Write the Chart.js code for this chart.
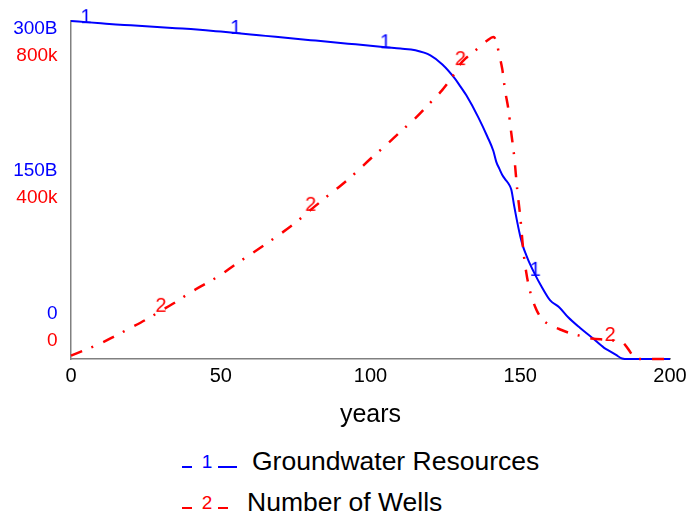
<!DOCTYPE html>
<html>
<head>
<meta charset="utf-8">
<script src="https://cdn.jsdelivr.net/npm/chart.js@4.4.1/dist/chart.umd.min.js"></script>
<style>
  html, body { margin: 0; padding: 0; background: #fff; }
  #wrap { position: relative; width: 689px; height: 515px; overflow: hidden;
          font-family: "Liberation Sans", Arial, sans-serif; }
  #chart { position: absolute; left: 0; top: 0; }
  .legend-row { position: absolute; left: 0; width: 689px; height: 41px; }
  .legend-row svg { position: absolute; left: 182px; top: 0; }
  .legend-row span { position: absolute; top: 0; font-size: 26.5px; line-height: 41px;
                     color: #000; white-space: nowrap; }
</style>
</head>
<body>
<div id="wrap">
  <canvas id="chart" width="689" height="440"></canvas>
  <div id="legend"></div>
</div>
<script>
/* ========== DATA ========== */

const years = [0, 5, 10, 15, 20, 25, 30, 35, 40, 45, 50, 55, 60, 65, 70, 75, 80, 85, 90, 95,
  100, 105, 110, 115, 120, 124, 128, 130, 132, 136, 139, 141, 142, 143, 144, 145, 146, 147,
  148, 149, 150, 151, 152, 153, 155, 157, 160, 163, 166, 170, 174, 178, 180, 182, 184, 186,
  188, 190, 195, 200];

// Groundwater Resources, billions
const groundwater = [300, 299, 298, 297, 296.2, 295.3, 294.5, 293.6, 292.8, 291.8, 290.6,
  289.4, 288, 286.8, 285.5, 284.2, 283, 281.8, 280.5, 279.3, 278, 276.7, 275.5, 274, 269.5,
  261.4, 249.5, 242, 234, 214.5, 197.5, 184.8, 175, 169, 163.4, 159.4, 155.9, 150.5, 135.5,
  121.5, 109, 99.3, 92.3, 85.8, 74.7, 64.8, 52, 46, 37, 27.5, 18.9, 9.9, 6.8, 3.6, 0.5, 0,
  0, 0, 0, 0];

// Number of Wells, thousands
const wells = [8, 22.5, 37.5, 55.5, 74, 93, 114, 135, 158, 178.5, 199, 224.5, 248, 272,
  296.5, 323, 353, 382, 410, 440.5, 474, 505, 538, 570, 607, 637, 675, 698, 713, 736, 754,
  762, 752, 719, 686, 633, 593, 535, 478, 400, 337, 258, 205, 168, 123, 97, 80, 71, 62.5,
  55, 48.5, 46, 45, 43, 40.5, 24, 4, 0, 0, 0];

const seriesNames = ["Groundwater Resources", "Number of Wells"];
const seriesMarks = ["1", "2"];

// years where the curve number is written on the line
const markYearsWater = [5, 55, 105, 155];
const markYearsWells = [30, 80, 130, 180];

const xTicks = [0, 50, 100, 150, 200];
const waterTicks = [0, 150, 300];
const waterTickLabels = ["0", "150B", "300B"];
const wellTicks = [0, 400, 800];
const wellTickLabels = ["0", "400k", "800k"];

/* ========== STYLE ========== */

const BLUE = "#0000ff";
const RED = "#ff0000";
const AXIS_GREY = "#808080";
const FONT = '"Liberation Sans", Arial, sans-serif';

Chart.defaults.font.family = FONT;

// the curve numbers drawn as point images, digit bottom sits on the line
function digitMark(text, color) {
    const c = document.createElement("canvas");
    c.width = 18;
    c.height = 44;
    const g = c.getContext("2d");
    g.font = "20px " + FONT;
    g.fillStyle = color;
    g.textAlign = "center";
    g.textBaseline = "alphabetic";
    g.fillText(text, 9, 23);
    return c;
}

const markWater = digitMark(seriesMarks[0], BLUE);
const markWells = digitMark(seriesMarks[1], RED);

function toPoints(values) {
    return years.map((t, i) => ({ x: t, y: values[i] }));
}

function noPadding(scale) {
    scale.paddingTop = 0;
    scale.paddingBottom = 0;
    scale.paddingLeft = 0;
    scale.paddingRight = 0;
}

// Vensim spreads the stacked tick labels over a shorter span than the plot,
// so the labels sit on their own (dataless) axes pinned just left of x = 0
function labelAxis(min, max, values, labels, color) {
    return {
        type: "linear",
        position: { x: -4.5 },
        min: min,
        max: max,
        afterBuildTicks: s => { s.ticks = values.map(v => ({ value: v })); },
        ticks: {
            color: color,
            font: { size: 19 },
            callback: (v, i) => labels[i]
        },
        grid: { display: false, drawTicks: false },
        border: { display: false },
        afterFit: noPadding
    };
}

/* ========== CHART ========== */

const chart = new Chart(document.getElementById("chart"), {
    type: "line",
    data: {
        datasets: [
            {
                label: seriesNames[0],
                data: toPoints(groundwater),
                yAxisID: "y",
                borderColor: BLUE,
                borderWidth: 2,
                cubicInterpolationMode: "monotone",
                order: 1,
                clip: { left: 4, top: 21, right: 4, bottom: 4 },
                pointRadius: c => markYearsWater.includes(years[c.dataIndex]) ? 6 : 0,
                pointStyle: c => markYearsWater.includes(years[c.dataIndex]) ? markWater : "circle"
            },
            {
                label: seriesNames[1],
                data: toPoints(wells),
                yAxisID: "y1",
                borderColor: RED,
                borderWidth: 2.5,
                borderDash: [12, 10, 2, 11],
                cubicInterpolationMode: "monotone",
                order: 0,
                clip: { left: 4, top: 21, right: 4, bottom: 4 },
                pointRadius: c => markYearsWells.includes(years[c.dataIndex]) ? 6 : 0,
                pointStyle: c => markYearsWells.includes(years[c.dataIndex]) ? markWells : "circle"
            }
        ]
    },
    options: {
        responsive: false,
        animation: false,
        events: [],
        layout: { padding: { top: 21, right: 19, bottom: 0, left: 0 } },
        plugins: {
            legend: { display: false },
            tooltip: { enabled: false }
        },
        scales: {
            x: {
                type: "linear",
                min: 0,
                max: 200,
                afterBuildTicks: s => { s.ticks = xTicks.map(v => ({ value: v })); },
                ticks: { color: "#000", font: { size: 20 }, padding: 5 },
                grid: { display: false, drawTicks: false },
                border: { color: AXIS_GREY, width: 1.5 },
                title: {
                    display: true,
                    text: "years",
                    color: "#000",
                    font: { size: 25 },
                    padding: { top: 0, bottom: 10 }
                },
                afterFit: s => { s.height = 81; noPadding(s); }
            },
            y: {
                type: "linear",
                position: "left",
                min: 0,
                max: 300,
                ticks: { display: false },
                grid: { display: false, drawTicks: false },
                border: { color: AXIS_GREY, width: 1.5 },
                afterFit: s => { s.width = 71; noPadding(s); }
            },
            y1: {
                type: "linear",
                display: false,
                min: 0,
                max: 800
            },
            yWaterLabels: labelAxis(-47.3, 307.9, waterTicks, waterTickLabels, BLUE),
            yWellLabels: labelAxis(-51.9, 896.8, wellTicks, wellTickLabels, RED)
        }
    }
});

/* ========== LEGEND (Vensim style, one row per series) ========== */

const legendEl = document.getElementById("legend");
const legendRows = [
    { top: 441, textLeft: 252, seg2: 19, color: BLUE },
    { top: 482, textLeft: 247, seg2: 10, color: RED }
];

chart.data.datasets.forEach((ds, i) => {
    const r = legendRows[i];
    const row = document.createElement("div");
    row.className = "legend-row";
    row.style.top = r.top + "px";
    row.innerHTML =
        '<svg width="60" height="41">' +
        '<line x1="0" y1="26" x2="10" y2="26" stroke="' + r.color + '" stroke-width="2"/>' +
        '<text x="25" y="27" text-anchor="middle" font-size="19" font-family=\'' + FONT + '\' fill="' + r.color + '">' + seriesMarks[i] + '</text>' +
        '<line x1="36" y1="26" x2="' + (36 + r.seg2) + '" y2="26" stroke="' + r.color + '" stroke-width="2"/>' +
        '</svg>' +
        '<span style="left:' + r.textLeft + 'px">' + ds.label + '</span>';
    legendEl.appendChild(row);
});
</script>
</body>
</html>
